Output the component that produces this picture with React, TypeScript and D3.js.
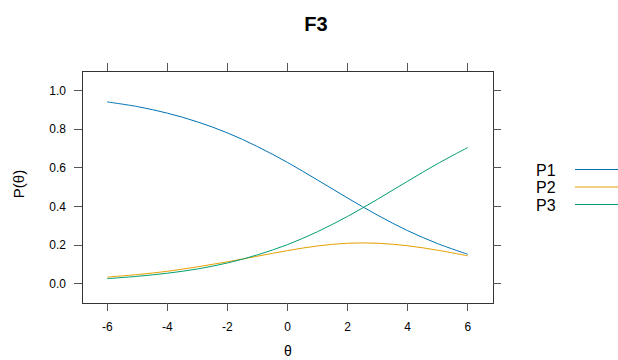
import React from "react";
import * as d3 from "d3";

const theta = [-6, -5, -4, -3, -2, -1, 0, 1, 2, 3, 4, 5, 6];
const p1 = [0.940, 0.916, 0.882, 0.837, 0.780, 0.709, 0.627, 0.536, 0.443, 0.354, 0.274, 0.207, 0.152];
const p2 = [0.034, 0.047, 0.064, 0.087, 0.113, 0.142, 0.171, 0.195, 0.209, 0.209, 0.196, 0.173, 0.144];
const p3 = [0.026, 0.038, 0.054, 0.076, 0.107, 0.149, 0.202, 0.269, 0.348, 0.437, 0.530, 0.621, 0.704];
const seriesNames = ["P1", "P2", "P3"];
const seriesColors = ["#0072B2", "#E69F00", "#009E73"];
const xTicks = [-6, -4, -2, 0, 2, 4, 6];
const yTicks = [0, 0.2, 0.4, 0.6, 0.8, 1.0];
const title = "F3";

const W = 618;
const H = 360;
const L = 82, R = 493, T = 71, B = 303;
const FONT = "'Liberation Sans', Arial, Helvetica, sans-serif";

export default function App() {
  const x = d3.scaleLinear().domain([-6.84, 6.84]).range([L, R]);
  const y = d3.scaleLinear().domain([-0.1, 1.1]).range([B, T]);
  const series = [p1, p2, p3];
  const line = d3
    .line<[number, number]>()
    .x((d) => x(d[0]))
    .y((d) => y(d[1]))
    .curve(d3.curveCatmullRom.alpha(0.5));
  const tickCol = "#555";
  const tl = 8;
  return (
    <svg
      width={W}
      height={H}
      style={{ position: "absolute", left: 0, top: 0, background: "#fff" }}
      fontFamily={FONT}
    >
      <text x={316} y={31} textAnchor="middle" fontSize={20} fontWeight="bold" fill="#000">
        {title}
      </text>
      {series.map((s, i) => (
        <path
          key={i}
          d={line(theta.map((t, j) => [t, s[j]] as [number, number])) || ""}
          fill="none"
          stroke={seriesColors[i]}
          strokeWidth={1}
        />
      ))}
      <rect x={L} y={T} width={R - L} height={B - T} fill="none" stroke="#333" strokeWidth={1} shapeRendering="crispEdges" />
      {xTicks.map((t) => (
        <g key={"x" + t}>
          <line x1={x(t)} x2={x(t)} y1={B} y2={B + tl} stroke={tickCol} shapeRendering="crispEdges" />
          <line x1={x(t)} x2={x(t)} y1={T} y2={T - tl} stroke={tickCol} shapeRendering="crispEdges" />
          <text x={x(t)} y={331} textAnchor="middle" fontSize={12} fill="#000">
            {t}
          </text>
        </g>
      ))}
      {yTicks.map((t) => (
        <g key={"y" + t}>
          <line x1={L} x2={L - tl} y1={y(t)} y2={y(t)} stroke={tickCol} shapeRendering="crispEdges" />
          <line x1={R} x2={R + tl} y1={y(t)} y2={y(t)} stroke={tickCol} shapeRendering="crispEdges" />
          <text x={66} y={y(t) + 4.3} textAnchor="end" fontSize={12} fill="#000">
            {t.toFixed(1)}
          </text>
        </g>
      ))}
      <text x={288} y={356} textAnchor="middle" fontSize={14} fill="#000">
        θ
      </text>
      <text
        transform={`translate(24, 184) rotate(-90)`}
        textAnchor="middle"
        fontSize={15}
        fill="#000"
      >
        P(θ)
      </text>
      {seriesNames.map((n, i) => (
        <g key={n}>
          <text x={536} y={175.5 + i * 17.5} fontSize={16} fill="#000">
            {n}
          </text>
          <line
            x1={575}
            x2={618}
            y1={169.5 + i * 17.5}
            y2={169.5 + i * 17.5}
            stroke={seriesColors[i]}
            strokeWidth={1}
          />
        </g>
      ))}
    </svg>
  );
}
